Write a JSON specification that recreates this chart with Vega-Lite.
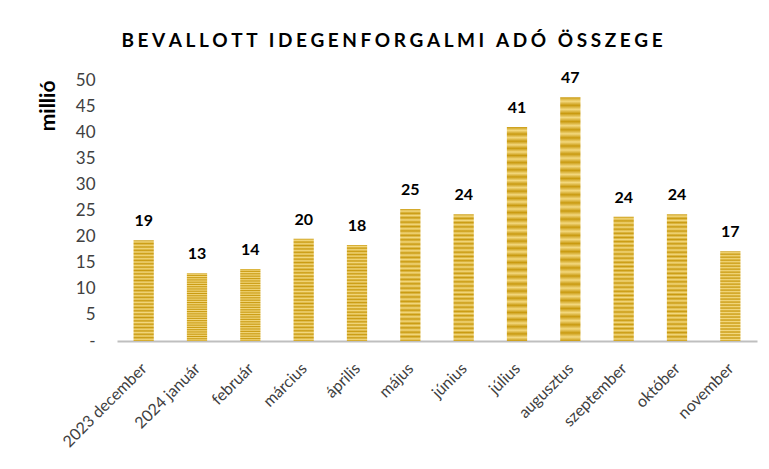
{
  "$schema": "https://vega.github.io/schema/vega-lite/v6.json",
  "width": 640,
  "height": 261,
  "autosize": {"type": "none"},
  "padding": {"left": 117, "top": 80, "right": 12, "bottom": 128},
  "background": "white",
  "title": {
    "text": "B\u2009\u200aE\u2009\u200aV\u2009\u200aA\u2009\u200aL\u2009\u200aL\u2009\u200aO\u2009\u200aT\u2009\u200aT \u2009\u2009\u2009I\u2009\u200aD\u2009\u200aE\u2009\u200aG\u2009\u200aE\u2009\u200aN\u2009\u200aF\u2009\u200aO\u2009\u200aR\u2009\u200aG\u2009\u200aA\u2009\u200aL\u2009\u200aM\u2009\u200aI \u2009\u2009\u2009A\u2009\u200aD\u2009\u200aÓ \u2009\u2009\u2009Ö\u2009\u200aS\u2009\u200aS\u2009\u200aZ\u2009\u200aE\u2009\u200aG\u2009\u200aE",
    "font": "Lato",
    "fontSize": 19,
    "fontWeight": "bold",
    "color": "#000000",
    "anchor": "middle",
    "dx": -45,
    "offset": 19
  },
  "config": {
    "view": {"stroke": null},
    "font": "Lato"
  },
  "data": {
    "values": [
      {"honap": "2023 december", "ertek": 19.3},
      {"honap": "2024 január", "ertek": 13.0},
      {"honap": "február", "ertek": 13.8},
      {"honap": "március", "ertek": 19.6},
      {"honap": "április", "ertek": 18.4},
      {"honap": "május", "ertek": 25.3},
      {"honap": "június", "ertek": 24.3},
      {"honap": "július", "ertek": 41.0},
      {"honap": "augusztus", "ertek": 46.7},
      {"honap": "szeptember", "ertek": 23.8},
      {"honap": "október", "ertek": 24.3},
      {"honap": "november", "ertek": 17.2}
    ]
  },
  "encoding": {
    "x": {
      "field": "honap",
      "type": "nominal",
      "sort": null,
      "scale": {"paddingInner": 0.62, "paddingOuter": 0.31},
      "axis": {
        "title": null,
        "labelAngle": -45,
        "labelFont": "Lato",
        "labelFontSize": 16,
        "labelColor": "#404040",
        "labelPadding": 19,
        "labelOffset": -5,
        "ticks": false,
        "domainColor": "#BFBFBF",
        "domainWidth": 2
      }
    },
    "y": {
      "field": "ertek",
      "type": "quantitative",
      "scale": {"domain": [0, 50], "nice": false},
      "axis": {
        "title": "millió",
        "titleFont": "Lato",
        "titleFontSize": 21,
        "titleFontWeight": "bold",
        "titleColor": "#000000",
        "titleAnchor": "end",
        "titlePadding": 17,
        "values": [0, 5, 10, 15, 20, 25, 30, 35, 40, 45, 50],
        "labelExpr": "datum.value == 0 ? '-  ' : datum.label",
        "labelFont": "Lato",
        "labelFontSize": 17,
        "labelColor": "#404040",
        "labelPadding": 22,
        "ticks": false,
        "domain": false,
        "grid": false
      }
    }
  },
  "layer": [
    {
      "mark": {
        "type": "bar",
        "fill": {
          "gradient": "linear",
          "x1": 0, "y1": 0, "x2": 0, "y2": 1,
          "stops": [
            {"offset": 0, "color": "#C99A10"},
            {"offset": 0.0167, "color": "#F3D87E"},
            {"offset": 0.0333, "color": "#C99A10"},
            {"offset": 0.05, "color": "#F3D87E"},
            {"offset": 0.0667, "color": "#C99A10"},
            {"offset": 0.0833, "color": "#F3D87E"},
            {"offset": 0.1, "color": "#C99A10"},
            {"offset": 0.1167, "color": "#F3D87E"},
            {"offset": 0.1333, "color": "#C99A10"},
            {"offset": 0.15, "color": "#F3D87E"},
            {"offset": 0.1667, "color": "#C99A10"},
            {"offset": 0.1833, "color": "#F3D87E"},
            {"offset": 0.2, "color": "#C99A10"},
            {"offset": 0.2167, "color": "#F3D87E"},
            {"offset": 0.2333, "color": "#C99A10"},
            {"offset": 0.25, "color": "#F3D87E"},
            {"offset": 0.2667, "color": "#C99A10"},
            {"offset": 0.2833, "color": "#F3D87E"},
            {"offset": 0.3, "color": "#C99A10"},
            {"offset": 0.3167, "color": "#F3D87E"},
            {"offset": 0.3333, "color": "#C99A10"},
            {"offset": 0.35, "color": "#F3D87E"},
            {"offset": 0.3667, "color": "#C99A10"},
            {"offset": 0.3833, "color": "#F3D87E"},
            {"offset": 0.4, "color": "#C99A10"},
            {"offset": 0.4167, "color": "#F3D87E"},
            {"offset": 0.4333, "color": "#C99A10"},
            {"offset": 0.45, "color": "#F3D87E"},
            {"offset": 0.4667, "color": "#C99A10"},
            {"offset": 0.4833, "color": "#F3D87E"},
            {"offset": 0.5, "color": "#C99A10"},
            {"offset": 0.5167, "color": "#F3D87E"},
            {"offset": 0.5333, "color": "#C99A10"},
            {"offset": 0.55, "color": "#F3D87E"},
            {"offset": 0.5667, "color": "#C99A10"},
            {"offset": 0.5833, "color": "#F3D87E"},
            {"offset": 0.6, "color": "#C99A10"},
            {"offset": 0.6167, "color": "#F3D87E"},
            {"offset": 0.6333, "color": "#C99A10"},
            {"offset": 0.65, "color": "#F3D87E"},
            {"offset": 0.6667, "color": "#C99A10"},
            {"offset": 0.6833, "color": "#F3D87E"},
            {"offset": 0.7, "color": "#C99A10"},
            {"offset": 0.7167, "color": "#F3D87E"},
            {"offset": 0.7333, "color": "#C99A10"},
            {"offset": 0.75, "color": "#F3D87E"},
            {"offset": 0.7667, "color": "#C99A10"},
            {"offset": 0.7833, "color": "#F3D87E"},
            {"offset": 0.8, "color": "#C99A10"},
            {"offset": 0.8167, "color": "#F3D87E"},
            {"offset": 0.8333, "color": "#C99A10"},
            {"offset": 0.85, "color": "#F3D87E"},
            {"offset": 0.8667, "color": "#C99A10"},
            {"offset": 0.8833, "color": "#F3D87E"},
            {"offset": 0.9, "color": "#C99A10"},
            {"offset": 0.9167, "color": "#F3D87E"},
            {"offset": 0.9333, "color": "#C99A10"},
            {"offset": 0.95, "color": "#F3D87E"},
            {"offset": 0.9667, "color": "#C99A10"},
            {"offset": 0.9833, "color": "#F3D87E"},
            {"offset": 1, "color": "#C99A10"}
          ]
        }
      }
    },
    {
      "mark": {
        "type": "text",
        "font": "Lato",
        "fontSize": 16,
        "fontWeight": "bold",
        "color": "#000000",
        "baseline": "alphabetic",
        "dy": -14
      },
      "encoding": {
        "text": {"field": "ertek", "type": "quantitative", "format": ".0f"}
      }
    }
  ]
}
